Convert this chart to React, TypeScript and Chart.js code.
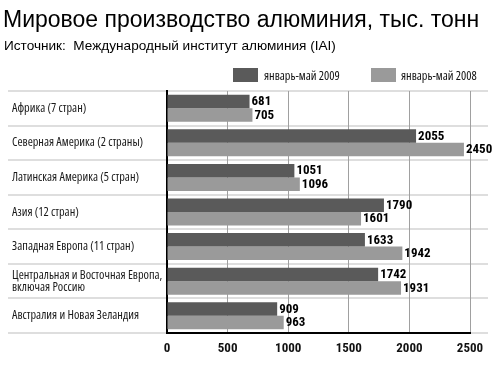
import React, { useEffect, useRef } from 'react';
import { Chart, registerables } from 'chart.js';

Chart.register(...registerables);

const TITLE = 'Мировое производство алюминия, тыс. тонн';
const SUBTITLE = 'Источник:  Международный институт алюминия (IAI)';

const categories: (string | string[])[] = [
  'Африка (7 стран)',
  'Северная Америка (2 страны)',
  'Латинская Америка (5 стран)',
  'Азия (12 стран)',
  'Западная Европа (11 стран)',
  ['Центральная и Восточная Европа,', 'включая Россию'],
  'Австралия и Новая Зеландия',
];
const series2009 = [681, 2055, 1051, 1790, 1633, 1742, 909];
const series2008 = [705, 2450, 1096, 1601, 1942, 1931, 963];
const seriesLabels = ['январь-май 2009', 'январь-май 2008'];
const xTicks = [0, 500, 1000, 1500, 2000, 2500];

const COLORS = ['#5a5a5a', '#9a9a9a'];
const LABEL_FAMILY = "'Open Sans', sans-serif";
const NUM_FAMILY = "Roboto, sans-serif";
const SANS = "'Liberation Sans', Arial, Helvetica, sans-serif";

const separatorsPlugin = {
  id: 'separators',
  beforeDraw(chart: any) {
    const ys = chart.scales.y;
    const ctx = chart.ctx;
    const n = chart.data.labels.length;
    const step = ys.getPixelForValue(1) - ys.getPixelForValue(0);
    ctx.save();
    ctx.strokeStyle = '#dedede';
    ctx.lineWidth = 2;
    for (let i = 0; i <= n; i++) {
      const y = Math.round(ys.getPixelForValue(0) - step / 2 + i * step);
      ctx.beginPath();
      ctx.moveTo(8, y);
      ctx.lineTo(488, y);
      ctx.stroke();
    }
    ctx.restore();
  },
};

const valueLabelsPlugin = {
  id: 'valueLabels',
  afterDatasetsDraw(chart: any) {
    const ctx = chart.ctx;
    ctx.save();
    ctx.font = 'condensed bold 13px ' + NUM_FAMILY;
    ctx.fillStyle = '#000';
    ctx.textBaseline = 'middle';
    ctx.textAlign = 'left';
    chart.data.datasets.forEach((ds: any, di: number) => {
      const meta = chart.getDatasetMeta(di);
      meta.data.forEach((el: any, i: number) => {
        ctx.fillText(String(ds.data[i]), el.x + 2, el.y + 0.5);
      });
    });
    ctx.restore();
  },
};

const headerPlugin = {
  id: 'header',
  afterDraw(chart: any) {
    const ctx = chart.ctx;
    ctx.save();
    ctx.fillStyle = '#000';
    ctx.textAlign = 'left';
    ctx.textBaseline = 'alphabetic';
    ctx.font = '23px ' + SANS;
    ctx.fillText(TITLE, 3, 27);
    ctx.font = '13.6px ' + SANS;
    ctx.fillText(SUBTITLE, 4, 50);
    const items = [
      { x: 233, tx: 264 },
      { x: 371, tx: 401 },
    ];
    chart.data.datasets.forEach((ds: any, i: number) => {
      const it = items[i];
      ctx.fillStyle = ds.backgroundColor;
      ctx.fillRect(it.x, 68, 25, 14);
      ctx.fillStyle = '#111';
      ctx.font = 'condensed 12.3px ' + LABEL_FAMILY;
      ctx.textBaseline = 'middle';
      ctx.fillText(ds.label, it.tx, 76);
    });
    ctx.restore();
  },
};

export default function App() {
  const ref = useRef<HTMLCanvasElement | null>(null);

  useEffect(() => {
    if (!ref.current) return;
    const chart = new Chart(ref.current, {
      type: 'bar',
      data: {
        labels: categories,
        datasets: [
          {
            label: seriesLabels[0],
            data: series2009,
            backgroundColor: COLORS[0],
            borderWidth: 0,
            categoryPercentage: 0.78,
            barPercentage: 1.0,
          },
          {
            label: seriesLabels[1],
            data: series2008,
            backgroundColor: COLORS[1],
            borderWidth: 0,
            categoryPercentage: 0.78,
            barPercentage: 1.0,
          },
        ],
      },
      options: {
        indexAxis: 'y',
        animation: false,
        responsive: false,
        devicePixelRatio: 1,
        layout: { padding: { left: 12, right: 27, top: 91, bottom: 0 } },
        plugins: {
          legend: { display: false },
          title: { display: false },
          tooltip: { enabled: false },
        },
        scales: {
          x: {
            type: 'linear',
            min: 0,
            max: 2500,
            afterBuildTicks: (scale: any) => {
              scale.ticks = xTicks.map((v) => ({ value: v }));
            },
            afterFit: (scale: any) => {
              scale.height = 40;
              scale.paddingLeft = 0;
              scale.paddingRight = 0;
            },
            grid: { color: '#a0a0a0', lineWidth: 1, drawTicks: false },
            border: { display: true, color: '#000', width: 2 },
            ticks: {
              padding: 8,
              color: '#111',
              callback: (v: any) => String(v),
              font: { family: NUM_FAMILY, size: 13, weight: 'condensed bold' },
            },
          },
          y: {
            type: 'category',
            afterFit: (scale: any) => {
              scale.width = 155;
            },
            grid: { display: false },
            border: { display: true, color: '#000', width: 2 },
            ticks: {
              crossAlign: 'far',
              color: '#1a1a1a',
              autoSkip: false,
              font: { family: LABEL_FAMILY, size: 12.3, weight: 'condensed', lineHeight: 0.98 },
            },
          },
        },
      },
      plugins: [separatorsPlugin, valueLabelsPlugin, headerPlugin],
    } as any);
    return () => chart.destroy();
  }, []);

  return (
    <div style={{ position: 'absolute', left: 0, top: 0, width: 497, height: 373, background: '#fff' }}>
      <canvas ref={ref} width={497} height={373} style={{ display: 'block' }} />
    </div>
  );
}
